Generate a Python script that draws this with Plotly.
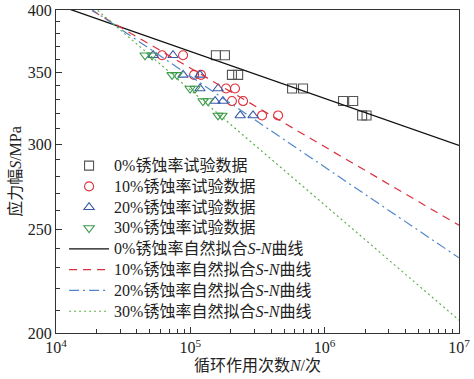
import plotly.graph_objects as go

# Experimental data (N cycles, S stress amplitude MPa)
S_levels = [363, 363, 348, 348, 338, 338, 329, 329, 319, 319]
N_0 = [1.55e5, 1.81e5, 2.04e5, 2.27e5, 5.72e5, 6.9e5, 1.37e6, 1.63e6, 1.9e6, 2.05e6]
N_10 = [6.16e4, 8.83e4, 1.066e5, 1.20e5, 1.845e5, 2.15e5, 2.04e5, 2.47e5, 3.42e5, 4.50e5]
N_20 = [5.28e4, 7.43e4, 8.83e4, 1.18e5, 1.18e5, 1.61e5, 1.53e5, 1.75e5, 2.35e5, 2.93e5]
N_30 = [4.6e4, 5.19e4, 7.31e4, 7.96e4, 9.95e4, 1.084e5, 1.243e5, 1.355e5, 1.608e5, 1.722e5]

# Fitted S-N curves (end points on log-log axes)
fit_N = [1e4, 1e7]
fit_S0 = [404.8, 299.1]
fit_S10 = [418.0, 252.0]
fit_S20 = [421.7, 235.0]
fit_S30 = [431.4, 205.6]

series_names = ["0%锈蚀率试验数据", "10%锈蚀率试验数据", "20%锈蚀率试验数据", "30%锈蚀率试验数据",
                "0%锈蚀率自然拟合<i>S</i>-<i>N</i>曲线", "10%锈蚀率自然拟合<i>S</i>-<i>N</i>曲线",
                "20%锈蚀率自然拟合<i>S</i>-<i>N</i>曲线", "30%锈蚀率自然拟合<i>S</i>-<i>N</i>曲线"]

x_ticks = [1e4, 1e5, 1e6, 1e7]
x_ticktext = ["10<sup>4</sup>", "10<sup>5</sup>", "10<sup>6</sup>", "10<sup>7</sup>"]
y_ticks = [200, 250, 300, 350, 400]
y_minor = [v for v in range(210, 400, 10) if v % 50 != 0]
x_minor = [m * 10 ** e for e in (4, 5, 6) for m in range(2, 10)]

FONT = "Liberation Serif, Noto Sans CJK SC"


def lbl(t):
    return '<span style="font-size:16px">' + t + '</span>'


fig = go.Figure()

mk = dict(size=9, line=dict(width=1.1))
fig.add_trace(go.Scatter(x=N_0, y=S_levels, mode="markers", name=lbl(series_names[0]),
                         marker=dict(symbol="square-open", color="#555555", **mk)))
fig.add_trace(go.Scatter(x=N_10, y=S_levels, mode="markers", name=lbl(series_names[1]),
                         marker=dict(symbol="circle-open", color="#e0303a", **mk)))
fig.add_trace(go.Scatter(x=N_20, y=S_levels, mode="markers", name=lbl(series_names[2]),
                         marker=dict(symbol="triangle-up-open", color="#3a5aa8", **mk)))
fig.add_trace(go.Scatter(x=N_30, y=S_levels, mode="markers", name=lbl(series_names[3]),
                         marker=dict(symbol="triangle-down-open", color="#3a9a4a", **mk)))

fig.add_trace(go.Scatter(x=fit_N, y=fit_S0, mode="lines", name=lbl(series_names[4]),
                         line=dict(color="#111111", width=1.3)))
fig.add_trace(go.Scatter(x=fit_N, y=fit_S10, mode="lines", name=lbl(series_names[5]),
                         line=dict(color="#d8303c", width=1.2, dash="8px,6px")))
fig.add_trace(go.Scatter(x=fit_N, y=fit_S20, mode="lines", name=lbl(series_names[6]),
                         line=dict(color="#4f86c8", width=1.2, dash="10px,4px,2px,4px")))
fig.add_trace(go.Scatter(x=fit_N, y=fit_S30, mode="lines", name=lbl(series_names[7]),
                         line=dict(color="#5cb04a", width=1.2, dash="2px,3px")))

fig.update_layout(
    width=474, height=379,
    margin=dict(l=56, r=15, t=10, b=46),
    paper_bgcolor="white", plot_bgcolor="white",
    font=dict(family=FONT, size=16, color="#222222"),
    showlegend=True,
    legend=dict(x=0.02, y=0.566, xanchor="left", yanchor="top",
                bgcolor="rgba(0,0,0,0)", font=dict(size=13.7, family=FONT, color="#222222"),
                itemwidth=40, tracegroupgap=0),
)

fig.update_xaxes(
    type="log", range=[4, 7], tickmode="array", tickvals=x_ticks, ticktext=x_ticktext,
    automargin=False, ticklabeloverflow="allow",
    showline=True, linecolor="#333333", linewidth=1.2, mirror=True,
    ticks="inside", ticklen=6, tickcolor="#333333", showgrid=False, zeroline=False,
    minor=dict(tickvals=x_minor, ticks="inside", ticklen=3.5, tickcolor="#333333", showgrid=False),
    tickfont=dict(size=16, family=FONT),
    title=dict(text="循环作用次数<i>N</i>/次", font=dict(size=16, family=FONT), standoff=4),
)
fig.update_yaxes(
    type="log", range=[2.30103, 2.60206], tickmode="array", tickvals=y_ticks,
    ticktext=[str(v) for v in y_ticks], automargin=False, ticklabeloverflow="allow",
    showline=True, linecolor="#333333", linewidth=1.2, mirror=True,
    ticks="inside", ticklen=6, tickcolor="#333333", showgrid=False, zeroline=False,
    minor=dict(tickvals=y_minor, ticks="inside", ticklen=3.5, tickcolor="#333333", showgrid=False),
    tickfont=dict(size=16, family=FONT),
    title=dict(text="应力幅<i>S</i>/MPa", font=dict(size=16, family=FONT), standoff=2),
)

fig.write_html("out.html", config={"displayModeBar": False},
               post_script="document.body.style.margin='0';")
